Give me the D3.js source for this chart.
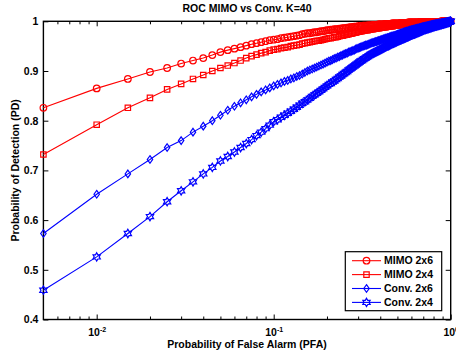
<!DOCTYPE html>
<html><head><meta charset="utf-8">
<script src="https://cdn.jsdelivr.net/npm/d3@7"></script>
<style>
html,body{margin:0;padding:0;background:#fff;}
text{font-family:"Liberation Sans",Arial,Helvetica,sans-serif;font-weight:bold;fill:#000;}
</style></head>
<body><svg id="c" width="456" height="360"></svg>
<script>
const pfa = [
0.005,0.010,0.015,0.020,0.025,0.030,0.035,0.040,0.045,0.050,
0.055,0.060,0.065,0.070,0.075,0.080,0.085,0.090,0.095,0.100,
0.105,0.110,0.115,0.120,0.125,0.130,0.135,0.140,0.145,0.150,
0.155,0.160,0.165,0.170,0.175,0.180,0.185,0.190,0.195,0.200,
0.205,0.210,0.215,0.220,0.225,0.230,0.235,0.240,0.245,0.250,
0.255,0.260,0.265,0.270,0.275,0.280,0.285,0.290,0.295,0.300,
0.305,0.310,0.315,0.320,0.325,0.330,0.335,0.340,0.345,0.350,
0.355,0.360,0.365,0.370,0.375,0.380,0.385,0.390,0.395,0.400,
0.405,0.410,0.415,0.420,0.425,0.430,0.435,0.440,0.445,0.450,
0.455,0.460,0.465,0.470,0.475,0.480,0.485,0.490,0.495,0.500,
0.505,0.510,0.515,0.520,0.525,0.530,0.535,0.540,0.545,0.550,
0.555,0.560,0.565,0.570,0.575,0.580,0.585,0.590,0.595,0.600,
0.605,0.610,0.615,0.620,0.625,0.630,0.635,0.640,0.645,0.650,
0.655,0.660,0.665,0.670,0.675,0.680,0.685,0.690,0.695,0.700,
0.705,0.710,0.715,0.720,0.725,0.730,0.735,0.740,0.745,0.750,
0.755,0.760,0.765,0.770,0.775,0.780,0.785,0.790,0.795,0.800,
0.805,0.810,0.815,0.820,0.825,0.830,0.835,0.840,0.845,0.850,
0.855,0.860,0.865,0.870,0.875,0.880,0.885,0.890,0.895,0.900,
0.905,0.910,0.915,0.920,0.925,0.930,0.935,0.940,0.945,0.950,
0.955,0.960,0.965,0.970,0.975,0.980,0.985,0.990,0.995,1.000];

const mimo2x6 = [
0.826,0.865,0.884,0.898,0.906,0.915,0.921,0.926,0.932,0.938,
0.942,0.945,0.948,0.951,0.954,0.956,0.958,0.960,0.962,0.963,
0.964,0.966,0.967,0.968,0.969,0.970,0.971,0.972,0.974,0.975,
0.976,0.976,0.977,0.978,0.978,0.979,0.980,0.980,0.981,0.982,
0.982,0.983,0.983,0.984,0.984,0.984,0.985,0.985,0.986,0.986,
0.986,0.987,0.987,0.988,0.988,0.988,0.989,0.989,0.989,0.990,
0.990,0.990,0.990,0.991,0.991,0.991,0.991,0.992,0.992,0.992,
0.992,0.992,0.993,0.993,0.993,0.993,0.993,0.994,0.994,0.994,
0.994,0.994,0.994,0.994,0.995,0.995,0.995,0.995,0.995,0.995,
0.995,0.995,0.996,0.996,0.996,0.996,0.996,0.996,0.996,0.996,
0.996,0.996,0.996,0.997,0.997,0.997,0.997,0.997,0.997,0.997,
0.997,0.997,0.997,0.997,0.998,0.998,0.998,0.998,0.998,0.998,
0.998,0.998,0.998,0.998,0.998,0.998,0.998,0.998,0.998,0.998,
0.998,0.998,0.998,0.999,0.999,0.999,0.999,0.999,0.999,0.999,
0.999,0.999,0.999,0.999,0.999,0.999,0.999,0.999,0.999,0.999,
0.999,0.999,0.999,0.999,0.999,0.999,0.999,0.999,0.999,0.999,
0.999,0.999,0.999,0.999,0.999,0.999,0.999,0.999,0.999,0.999,
0.999,0.999,0.999,0.999,0.999,1.000,1.000,1.000,1.000,1.000,
1.000,1.000,1.000,1.000,1.000,1.000,1.000,1.000,1.000,1.000,
1.000,1.000,1.000,1.000,1.000,1.000,1.000,1.000,1.000,1.000];

const mimo2x4 = [
0.732,0.792,0.826,0.846,0.863,0.874,0.884,0.892,0.900,0.906,
0.911,0.916,0.921,0.926,0.930,0.933,0.936,0.938,0.941,0.943,
0.944,0.946,0.947,0.948,0.950,0.951,0.952,0.953,0.955,0.956,
0.957,0.958,0.959,0.960,0.961,0.961,0.962,0.963,0.964,0.965,
0.966,0.966,0.967,0.968,0.968,0.969,0.970,0.971,0.971,0.972,
0.973,0.973,0.974,0.975,0.975,0.976,0.977,0.977,0.978,0.979,
0.979,0.980,0.980,0.981,0.981,0.982,0.982,0.982,0.983,0.983,
0.984,0.984,0.984,0.985,0.985,0.985,0.986,0.986,0.986,0.987,
0.987,0.987,0.988,0.988,0.988,0.988,0.989,0.989,0.989,0.989,
0.990,0.990,0.990,0.990,0.991,0.991,0.991,0.991,0.992,0.992,
0.992,0.992,0.992,0.993,0.993,0.993,0.993,0.993,0.993,0.994,
0.994,0.994,0.994,0.994,0.994,0.995,0.995,0.995,0.995,0.995,
0.995,0.995,0.995,0.996,0.996,0.996,0.996,0.996,0.996,0.996,
0.996,0.996,0.997,0.997,0.997,0.997,0.997,0.997,0.997,0.997,
0.997,0.997,0.997,0.997,0.997,0.997,0.997,0.997,0.997,0.997,
0.998,0.998,0.998,0.998,0.998,0.998,0.998,0.998,0.998,0.998,
0.998,0.998,0.998,0.998,0.998,0.998,0.998,0.998,0.998,0.998,
0.999,0.999,0.999,0.999,0.999,0.999,0.999,0.999,0.999,0.999,
0.999,0.999,0.999,0.999,0.999,0.999,0.999,0.999,0.999,0.999,
1.000,1.000,1.000,1.000,1.000,1.000,1.000,1.000,1.000,1.000];

const conv2x6 = [
0.573,0.652,0.693,0.722,0.746,0.760,0.777,0.789,0.800,0.811,
0.821,0.829,0.836,0.842,0.848,0.853,0.858,0.862,0.866,0.870,
0.873,0.876,0.879,0.881,0.884,0.886,0.889,0.891,0.894,0.897,
0.900,0.902,0.904,0.906,0.908,0.910,0.912,0.914,0.916,0.918,
0.920,0.921,0.923,0.925,0.926,0.928,0.929,0.931,0.932,0.934,
0.935,0.936,0.938,0.939,0.940,0.941,0.942,0.944,0.945,0.946,
0.947,0.948,0.949,0.950,0.951,0.952,0.952,0.953,0.954,0.955,
0.956,0.957,0.957,0.958,0.959,0.959,0.960,0.961,0.961,0.962,
0.963,0.963,0.964,0.965,0.965,0.966,0.966,0.967,0.967,0.968,
0.969,0.969,0.970,0.970,0.971,0.971,0.972,0.972,0.973,0.974,
0.974,0.975,0.975,0.976,0.976,0.977,0.977,0.978,0.978,0.979,
0.979,0.980,0.980,0.980,0.981,0.981,0.982,0.982,0.982,0.983,
0.983,0.983,0.984,0.984,0.984,0.985,0.985,0.985,0.986,0.986,
0.986,0.986,0.987,0.987,0.987,0.988,0.988,0.988,0.989,0.989,
0.989,0.989,0.990,0.990,0.990,0.990,0.991,0.991,0.991,0.991,
0.992,0.992,0.992,0.992,0.993,0.993,0.993,0.993,0.994,0.994,
0.994,0.994,0.994,0.995,0.995,0.995,0.995,0.995,0.995,0.996,
0.996,0.996,0.996,0.996,0.996,0.996,0.997,0.997,0.997,0.997,
0.997,0.997,0.997,0.998,0.998,0.998,0.998,0.998,0.998,0.998,
0.999,0.999,0.999,0.999,0.999,0.999,0.999,1.000,1.000,1.000];

const conv2x4 = [
0.459,0.526,0.573,0.607,0.637,0.659,0.677,0.693,0.706,0.719,
0.728,0.737,0.746,0.754,0.762,0.770,0.777,0.784,0.791,0.798,
0.802,0.807,0.811,0.815,0.819,0.823,0.827,0.831,0.835,0.838,
0.842,0.845,0.849,0.852,0.855,0.858,0.861,0.864,0.867,0.870,
0.873,0.875,0.878,0.880,0.883,0.885,0.888,0.890,0.893,0.895,
0.897,0.899,0.902,0.904,0.906,0.908,0.910,0.912,0.914,0.916,
0.918,0.920,0.921,0.923,0.925,0.926,0.928,0.929,0.931,0.932,
0.934,0.935,0.936,0.937,0.938,0.939,0.940,0.941,0.942,0.943,
0.944,0.945,0.946,0.947,0.948,0.949,0.950,0.951,0.951,0.952,
0.953,0.954,0.955,0.956,0.956,0.957,0.958,0.958,0.959,0.960,
0.961,0.961,0.962,0.963,0.963,0.964,0.965,0.965,0.966,0.966,
0.967,0.968,0.968,0.969,0.969,0.970,0.971,0.971,0.972,0.973,
0.973,0.974,0.974,0.975,0.975,0.976,0.976,0.977,0.977,0.978,
0.978,0.979,0.979,0.980,0.980,0.981,0.981,0.982,0.982,0.983,
0.983,0.984,0.984,0.984,0.985,0.985,0.985,0.986,0.986,0.986,
0.987,0.987,0.987,0.988,0.988,0.988,0.989,0.989,0.989,0.990,
0.990,0.990,0.991,0.991,0.991,0.991,0.992,0.992,0.992,0.992,
0.993,0.993,0.993,0.993,0.994,0.994,0.994,0.994,0.995,0.995,
0.995,0.995,0.996,0.996,0.996,0.996,0.997,0.997,0.997,0.997,
0.998,0.998,0.998,0.998,0.999,0.999,0.999,0.999,1.000,1.000];

const seriesNames = ["MIMO 2x6", "MIMO 2x4", "Conv. 2x6", "Conv. 2x4"];
const seriesColors = ["#ff0000", "#ff0000", "#0000ff", "#0000ff"];
const seriesMarkers = ["circle", "square", "diamond", "hexagram"];
const xMajor = [0.01, 0.1, 1];
const xMajorExp = ["-2", "-1", "0"];
const xMinor = [0.006,0.007,0.008,0.009,0.02,0.03,0.04,0.05,0.06,0.07,0.08,0.09,0.2,0.3,0.4,0.5,0.6,0.7,0.8,0.9];
const yTicks = [0.4, 0.5, 0.6, 0.7, 0.8, 0.9, 1];
const yTickLabels = ["0.4", "0.5", "0.6", "0.7", "0.8", "0.9", "1"];
const titleText = "ROC MIMO vs Conv. K=40";
const xLabelText = "Probability of False Alarm (PFA)";
const yLabelText = "Probability of Detection (PD)";

const allSeries = [mimo2x6, mimo2x4, conv2x6, conv2x4];

const L = 43.4, R = 450.7, T = 21.3, B = 319.5;
const FS = 10.5;
const svg = d3.select("#c");
const x = d3.scaleLog().domain([0.005, 1]).range([L, R]);
const y = d3.scaleLinear().domain([0.4, 1]).range([B, T]);

function markerPath(type) {
  const p = d3.path();
  if (type === "circle") { p.moveTo(3.3, 0); p.arc(0, 0, 3.3, 0, 2 * Math.PI); }
  else if (type === "square") { p.rect(-2.7, -2.7, 5.4, 5.4); }
  else if (type === "diamond") { p.moveTo(0, -3.8); p.lineTo(2.7, 0); p.lineTo(0, 3.8); p.lineTo(-2.7, 0); p.closePath(); }
  else if (type === "hexagram") {
    const Ro = 4.2, Ri = Ro / Math.sqrt(3);
    for (let k = 0; k < 12; k++) {
      const a = -Math.PI / 2 + k * Math.PI / 6;
      const r = k % 2 === 0 ? Ro : Ri;
      const px = r * Math.cos(a), py = r * Math.sin(a);
      if (k === 0) p.moveTo(px, py); else p.lineTo(px, py);
    }
    p.closePath();
  }
  return p.toString();
}

// axes (ticks)
const fmtNone = () => "";
const gB = svg.append("g").attr("transform", `translate(0,${B})`)
  .call(d3.axisBottom(x).tickValues(xMajor).tickSizeInner(-5).tickSizeOuter(0).tickPadding(9).tickFormat(fmtNone));
gB.selectAll(".tick text").each(function(d, i) {
  const t = d3.select(this);
  t.text(null);
  t.append("tspan").text("10");
  t.append("tspan").attr("dy", "-4").attr("font-size", 7).text(xMajorExp[i]);
});
svg.append("g").attr("transform", `translate(0,${B})`)
  .call(d3.axisBottom(x).tickValues(xMinor).tickSizeInner(-3).tickSizeOuter(0).tickFormat(fmtNone));
svg.append("g").attr("transform", `translate(0,${T})`)
  .call(d3.axisTop(x).tickValues(xMajor).tickSizeInner(-5).tickSizeOuter(0).tickFormat(fmtNone));
svg.append("g").attr("transform", `translate(0,${T})`)
  .call(d3.axisTop(x).tickValues(xMinor).tickSizeInner(-3).tickSizeOuter(0).tickFormat(fmtNone));
svg.append("g").attr("transform", `translate(${L},0)`)
  .call(d3.axisLeft(y).tickValues(yTicks).tickSizeInner(-5).tickSizeOuter(0).tickPadding(5)
    .tickFormat((d, i) => yTickLabels[i]));
svg.append("g").attr("transform", `translate(${R},0)`)
  .call(d3.axisRight(y).tickValues(yTicks).tickSizeInner(-5).tickSizeOuter(0).tickFormat(fmtNone));
svg.selectAll(".domain").remove();
svg.selectAll(".tick line").attr("stroke", "#000").attr("stroke-width", 1);
svg.selectAll(".tick text").attr("font-size", FS).attr("font-family", null).attr("fill", "#000");

// box
svg.append("rect").attr("x", L).attr("y", T).attr("width", R - L).attr("height", B - T)
  .attr("fill", "none").attr("stroke", "#000").attr("stroke-width", 1.4);

// series
const line = d3.line().x((d, i) => x(pfa[i])).y(d => y(d));
allSeries.forEach((vals, s) => {
  const g = svg.append("g");
  g.append("path").attr("d", line(vals)).attr("fill", "none")
    .attr("stroke", seriesColors[s]).attr("stroke-width", 1.1);
  const mp = markerPath(seriesMarkers[s]);
  g.selectAll("path.m").data(vals).join("path").attr("class", "m")
    .attr("d", mp)
    .attr("transform", (d, i) => `translate(${x(pfa[i])},${y(d)})`)
    .attr("fill", "none").attr("stroke", seriesColors[s]).attr("stroke-width", 1.2);
});

// title & labels
svg.append("text").attr("x", 247).attr("y", 11.7).attr("text-anchor", "middle")
  .attr("font-size", FS).text(titleText);
svg.append("text").attr("x", 247).attr("y", 348).attr("text-anchor", "middle")
  .attr("font-size", FS).text(xLabelText);
svg.append("text").attr("transform", `translate(19,${(T + B) / 2}) rotate(-90)`)
  .attr("text-anchor", "middle").attr("font-size", FS).text(yLabelText);

// legend
const lg = svg.append("g");
lg.append("rect").attr("x", 345.3).attr("y", 251.7).attr("width", 96.4).attr("height", 59)
  .attr("fill", "#fff").attr("stroke", "#000").attr("stroke-width", 1.2);
seriesNames.forEach((name, s) => {
  const yy = 260.7 + s * 13.9;
  lg.append("line").attr("x1", 352).attr("x2", 381).attr("y1", yy).attr("y2", yy)
    .attr("stroke", seriesColors[s]).attr("stroke-width", 1.1);
  lg.append("path").attr("d", markerPath(seriesMarkers[s]))
    .attr("transform", `translate(366.5,${yy})`).attr("fill", "none")
    .attr("stroke", seriesColors[s]).attr("stroke-width", 1.2);
  lg.append("text").attr("x", 384).attr("y", yy).attr("dy", "0.36em")
    .attr("font-size", FS).text(name);
});
</script></body></html>
